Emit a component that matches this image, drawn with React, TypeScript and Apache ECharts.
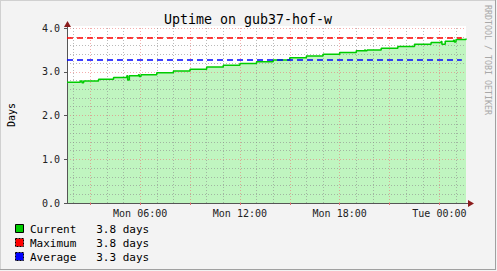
import React, { useEffect, useRef } from 'react';
import * as echarts from 'echarts';

const chartTitle = 'Uptime on gub37-hof-w';
const yAxisName = 'Days';
const watermark = 'RRDTOOL / TOBI OETIKER';

// x axis: hours since Monday 00:00
const xMinHour = 1.6;
const xMaxHour = 25.6;
const minorGridHours = [2, 4, 5, 7, 8, 10, 11, 13, 14, 16, 17, 19, 20, 22, 23, 25];
const majorGridHours = [3, 6, 9, 12, 15, 18, 21, 24];
const xLabelHours = [6, 12, 18, 24];
const xLabelTexts = ['Mon 06:00', 'Mon 12:00', 'Mon 18:00', 'Tue 00:00'];

const yMin = 0;
const yMax = 4;
const yInterval = 1;

const uptimeHours = [
  1.6, 2.4, 2.5, 2.6, 3.5, 4.4, 5.2, 5.25, 5.35, 5.9, 5.95, 6.05, 7.0, 8.0, 9.0, 10.0, 11.0, 12.0,
  13.0, 14.0, 15.0, 16.0, 17.0, 18.0, 19.0, 19.5, 19.55, 19.65, 20.5, 21.5, 22.5, 23.5, 24.1, 24.15,
  24.35, 24.85, 24.9, 25.0, 25.6,
];
const uptimeDays = [
  2.76, 2.79, 2.75, 2.79, 2.83, 2.87, 2.91, 2.81, 2.91, 2.93, 2.89, 2.93, 2.98, 3.02, 3.06, 3.11, 3.15, 3.19,
  3.23, 3.27, 3.32, 3.36, 3.40, 3.44, 3.48, 3.50, 3.48, 3.50, 3.54, 3.58, 3.63, 3.67, 3.69, 3.63,
  3.70, 3.72, 3.68, 3.74, 3.76,
];
const maximumDays = 3.77;
const averageDays = 3.27;

const legendNames = ['Current', 'Maximum', 'Average'];
const legendColors = ['#00cc00', '#ff0000', '#0000ff'];
const legendValues = [uptimeDays[uptimeDays.length - 1], maximumDays, averageDays];

const MONO = '"DejaVu Sans Mono", monospace';

export default function App() {
  const ref = useRef<HTMLDivElement>(null);

  useEffect(() => {
    if (!ref.current) return;
    const chart = echarts.init(ref.current, undefined, { renderer: 'svg' });

    const left = 67;
    const right = 466;
    const top = 28;
    const bottom = 203;

    const pairs = uptimeHours.map((h, i) => [h, uptimeDays[i]]);

    const legendGraphics: any[] = [];
    legendNames.forEach((name, i) => {
      const y = 229 + i * 14;
      legendGraphics.push({
        type: 'rect',
        shape: { x: 15.5, y: y - 4.5, width: 8, height: 8 },
        style: { fill: legendColors[i], stroke: '#000', lineWidth: 1, lineDash: i === 0 ? null : [2, 1] },
        z: 10,
      });
      legendGraphics.push({
        type: 'text',
        x: 30,
        y: y,
        style: {
          text: name.padEnd(10, ' ') + legendValues[i].toFixed(1) + ' days',
          font: `11px ${MONO}`,
          fill: '#000',
          textAlign: 'left',
          textVerticalAlign: 'middle',
          align: 'left',
          verticalAlign: 'middle',
        },
        z: 10,
      });
    });

    const minorColor = 'rgba(140,140,140,0.6)';
    const majorColor = 'rgba(235,120,120,0.6)';

    const option: any = {
      animation: false,
      backgroundColor: '#f3f3f3',
      grid: {
        left: left,
        top: top,
        width: right - left,
        height: bottom - top,
        show: true,
        backgroundColor: '#ffffff',
        borderWidth: 0,
        containLabel: false,
      },
      xAxis: {
        type: 'value',
        position: 'bottom',
        min: xMinHour,
        max: xMaxHour,
        z: 4,
        axisLine: { show: true, lineStyle: { color: '#555', width: 1 } },
        axisTick: {
          show: true,
          length: 2,
          customValues: majorGridHours,
          lineStyle: { color: '#e07070' },
        },
        axisLabel: {
          show: true,
          customValues: xLabelHours,
          formatter: (v: number) => {
            const idx = xLabelHours.findIndex((h) => Math.abs(h - v) < 1e-6);
            return idx >= 0 ? xLabelTexts[idx] : '';
          },
          fontFamily: MONO,
          fontSize: 10,
          color: '#222',
          margin: 5,
        },
        splitLine: { show: true, lineStyle: { color: majorColor, type: [1, 2], width: 1 } },
      },
      yAxis: {
        type: 'value',
        min: yMin,
        max: yMax,
        interval: yInterval,
        z: 4,
        axisLine: { show: true, lineStyle: { color: '#555', width: 1 } },
        axisTick: { show: true, length: 3, lineStyle: { color: '#555' } },
        axisLabel: {
          formatter: (v: number) => v.toFixed(1),
          fontFamily: MONO,
          fontSize: 10,
          color: '#222',
          margin: 7,
        },
        splitLine: { show: true, lineStyle: { color: majorColor, type: [1, 2], width: 1 } },
        minorTick: { show: false, splitNumber: 5 },
        minorSplitLine: { show: true, lineStyle: { color: minorColor, type: [1, 2], width: 1 } },
      },
      series: [
        {
          type: 'line',
          data: pairs,
          step: 'end',
          symbol: 'none',
          z: 1,
          lineStyle: { width: 0, opacity: 0 },
          areaStyle: { color: '#c0f5c0', opacity: 1 },
          silent: true,
          markLine: {
            silent: true,
            animation: false,
            symbol: ['none', 'none'],
            label: { show: false },
            emphasis: { disabled: true },
            lineStyle: { color: minorColor, type: [1, 2], width: 1, opacity: 1 },
            data: minorGridHours.map((h) => ({ xAxis: h })),
          },
        },
        {
          type: 'line',
          data: pairs,
          step: 'end',
          symbol: 'none',
          z: 6,
          lineStyle: { width: 1.5, color: '#00cc00' },
          silent: true,
        },
        {
          type: 'line',
          data: [[xMinHour, maximumDays], [xMaxHour - 0.25, maximumDays]],
          symbol: 'none',
          z: 6,
          lineStyle: { width: 1.5, color: '#ff0000', type: [6, 4] },
          silent: true,
        },
        {
          type: 'line',
          data: [[xMinHour, averageDays], [xMaxHour - 0.25, averageDays]],
          symbol: 'none',
          z: 6,
          lineStyle: { width: 1.5, color: '#0000ff', type: [6, 4] },
          silent: true,
        },
      ],
      graphic: [
        { type: 'rect', shape: { x: left, y: 26, width: right - left, height: 2 }, style: { fill: '#fff' }, z: 0, silent: true },
        // borders
        { type: 'line', shape: { x1: 0, y1: 0.5, x2: 496, y2: 0.5 }, style: { stroke: '#d0d0d0', lineWidth: 1 }, z: 10 },
        { type: 'line', shape: { x1: 0.5, y1: 0, x2: 0.5, y2: 270 }, style: { stroke: '#d0d0d0', lineWidth: 1 }, z: 10 },
        { type: 'line', shape: { x1: 0, y1: 269.5, x2: 496, y2: 269.5 }, style: { stroke: '#a0a0a0', lineWidth: 1 }, z: 10 },
        { type: 'line', shape: { x1: 495.5, y1: 0, x2: 495.5, y2: 270 }, style: { stroke: '#a0a0a0', lineWidth: 1 }, z: 10 },
        // axis extensions and arrows
        { type: 'line', shape: { x1: left + 0.5, y1: top, x2: left + 0.5, y2: 25 }, style: { stroke: '#555', lineWidth: 1 }, z: 10 },
        { type: 'polygon', shape: { points: [[left - 3, 27], [left + 0.5, 21], [left + 4, 27]] }, style: { fill: '#8b1c1c' }, z: 10 },
        { type: 'line', shape: { x1: right, y1: bottom + 0.5, x2: 469, y2: bottom + 0.5 }, style: { stroke: '#555', lineWidth: 1 }, z: 10 },
        { type: 'polygon', shape: { points: [[468, bottom - 3], [474, bottom + 0.5], [468, bottom + 4]] }, style: { fill: '#8b1c1c' }, z: 10 },
        // title
        {
          type: 'text',
          x: 248,
          y: 19,
          style: {
            text: chartTitle,
            font: `13.3px ${MONO}`,
            fill: '#000',
            textAlign: 'center',
            textVerticalAlign: 'middle',
            align: 'center',
            verticalAlign: 'middle',
          },
          z: 10,
        },
        // y axis name
        {
          type: 'text',
          x: 11,
          y: 115,
          rotation: Math.PI / 2,
          style: {
            text: yAxisName,
            font: `10px ${MONO}`,
            fill: '#000',
            textAlign: 'center',
            textVerticalAlign: 'middle',
            align: 'center',
            verticalAlign: 'middle',
          },
          z: 10,
        },
        // watermark
        {
          type: 'text',
          x: 488,
          y: 5,
          rotation: -Math.PI / 2,
          style: {
            text: watermark,
            font: `8.3px ${MONO}`,
            fill: '#a8a8a8',
            textAlign: 'left',
            textVerticalAlign: 'middle',
            align: 'left',
            verticalAlign: 'middle',
          },
          z: 10,
        },
        ...legendGraphics,
      ],
    };

    chart.setOption(option);
    return () => {
      chart.dispose();
    };
  }, []);

  return (
    <div
      ref={ref}
      style={{ position: 'absolute', left: 0, top: 0, width: 497, height: 271 }}
    />
  );
}
